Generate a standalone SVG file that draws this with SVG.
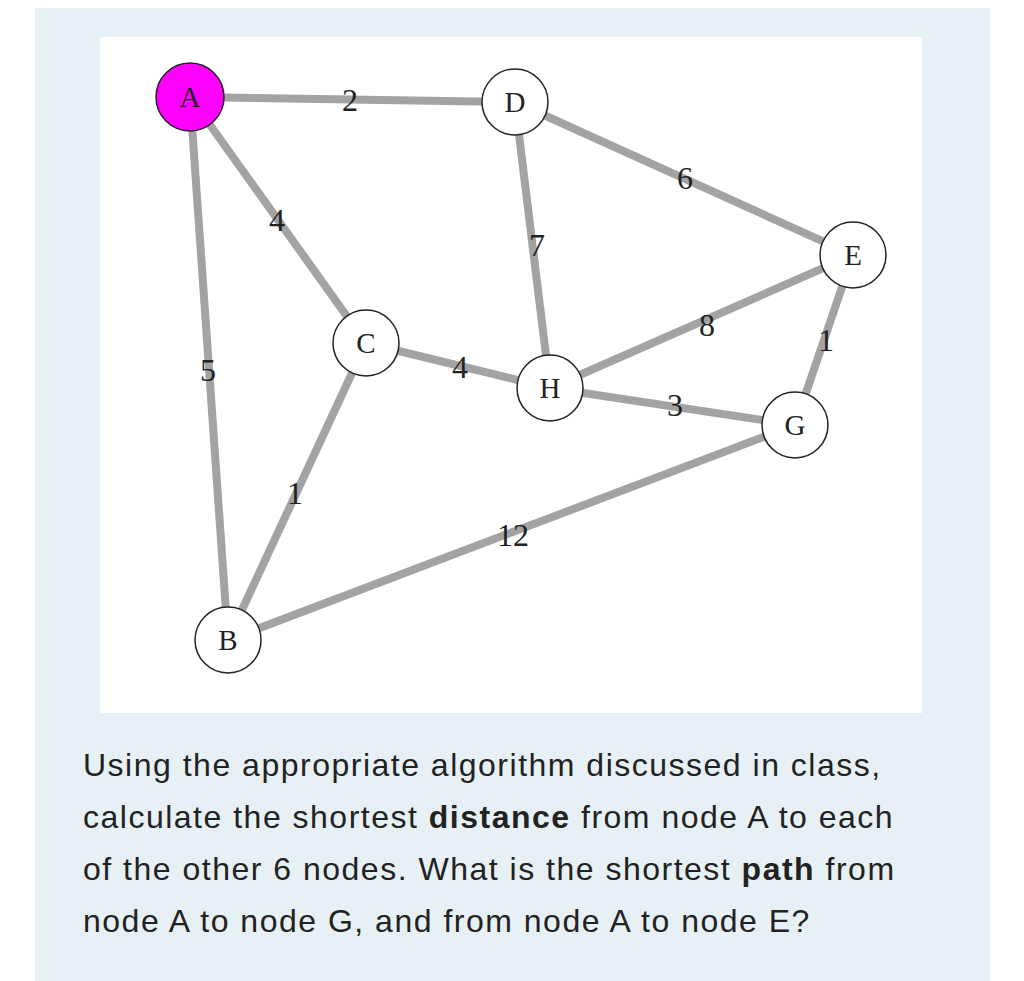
<svg xmlns="http://www.w3.org/2000/svg" width="1024" height="981" viewBox="0 0 1024 981">
<style>
.e{stroke:#a3a3a3;stroke-width:8;fill:none}
.n circle{fill:#fff;stroke:#222;stroke-width:1.5}
.n text{font-family:"Liberation Serif",serif;font-size:29px;text-anchor:middle;fill:#222}
.w{font-family:"Liberation Serif",serif;font-size:32px;text-anchor:middle;fill:#222}
.q{font-family:"Liberation Sans",sans-serif;font-size:32px;letter-spacing:1.5px;fill:#222}
</style>
<rect x="0" y="0" width="1024" height="981" fill="#fff"/>
<rect x="35" y="8" width="955" height="973" fill="#e7f1f5"/>
<rect x="100" y="37" width="822" height="676" fill="#fff"/>
<g id="edges">
<line class="e" x1="190" y1="97" x2="515" y2="102"/>
<line class="e" x1="190" y1="97" x2="366" y2="343"/>
<line class="e" x1="190" y1="97" x2="228" y2="640"/>
<line class="e" x1="515" y1="102" x2="853" y2="255"/>
<line class="e" x1="515" y1="102" x2="550" y2="388"/>
<line class="e" x1="853" y1="255" x2="550" y2="388"/>
<line class="e" x1="853" y1="255" x2="795" y2="425"/>
<line class="e" x1="366" y1="343" x2="550" y2="388"/>
<line class="e" x1="366" y1="343" x2="228" y2="640"/>
<line class="e" x1="550" y1="388" x2="795" y2="425"/>
<line class="e" x1="795" y1="425" x2="228" y2="640"/>
<text class="w" x="350" y="111">2</text>
<text class="w" x="685" y="189">6</text>
<text class="w" x="277" y="231">4</text>
<text class="w" x="537" y="256">7</text>
<text class="w" x="707" y="336">8</text>
<text class="w" x="208" y="381">5</text>
<text class="w" x="460" y="378">4</text>
<text class="w" x="826" y="351">1</text>
<text class="w" x="675" y="416">3</text>
<text class="w" x="295" y="504">1</text>
<text class="w" x="513" y="546">12</text>
</g>
<g id="A" class="n"><circle cx="190" cy="97" r="34" style="fill:#ff00ff"/><text x="190" y="107">A</text></g>
<g id="D" class="n"><circle cx="515" cy="102" r="33"/><text x="515" y="112">D</text></g>
<g id="E" class="n"><circle cx="853" cy="255" r="33"/><text x="853" y="265">E</text></g>
<g id="C" class="n"><circle cx="366" cy="343" r="33"/><text x="366" y="353">C</text></g>
<g id="H" class="n"><circle cx="550" cy="388" r="33"/><text x="550" y="398">H</text></g>
<g id="G" class="n"><circle cx="795" cy="425" r="33"/><text x="795" y="435">G</text></g>
<g id="B" class="n"><circle cx="228" cy="640" r="33"/><text x="228" y="650">B</text></g>
<text class="q" x="83" y="776">Using the appropriate algorithm discussed in class,</text>
<text class="q" x="83" y="828">calculate the shortest <tspan font-weight="bold">distance</tspan> from node A to each</text>
<text class="q" x="83" y="880">of the other 6 nodes. What is the shortest <tspan font-weight="bold">path</tspan> from</text>
<text class="q" x="83" y="932">node A to node G, and from node A to node E?</text>
</svg>
